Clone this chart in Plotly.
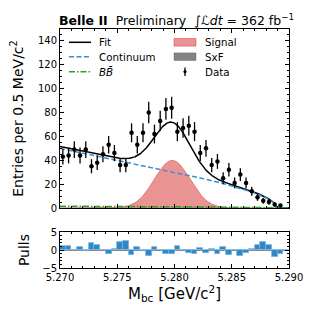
import numpy as np
import plotly.graph_objects as go

# ---------------- data ----------------
bin_low = 5.270
bin_width = 0.0005
n_bins = 40

# Observed counts per 0.5 MeV bin (first 39 bins; last bin empty)
counts = [43, 44, 49, 44, 49, 35, 38, 45, 53, 46,
          36, 36, 63, 53, 63, 80, 62, 73, 83, 84,
          64, 67, 69, 64, 46, 50, 36, 39, 25, 32,
          21, 28, 21, 14, 9, 6, 5, 3, 2]

# Pulls per bin (as drawn in the lower panel)
pulls = [1.2, 1.0, 0.05, 0.8, -0.4, 1.9, 1.3, -0.1, -1.0, 0.3,
         2.1, 2.5, -1.3, 0.7, -0.3, -1.8, 0.9, -0.05, -1.1, -1.2,
         1.0, 0.1, -0.7, -1.0, 0.6, -0.9, 0.2, -1.0, 0.7, -1.3,
         0.05, -1.7, -0.8, 0.3, 1.3, 2.1, 1.3, -2.0, -1.0, 0.0]

# Fit-model parameters
argus_endpoint = 5.2889
argus_c = 36.0
cont_at_low_edge = 50.0
sig_mean = 5.2798
sig_sigma = 0.00155
sig_peak = 40.0
bb_at_low_edge = 1.5
sxf_peak = 0.4
sxf_sigma = 0.003

x_ticks = [5.270, 5.275, 5.280, 5.285, 5.290]
y_ticks = [0, 20, 40, 60, 80, 100, 120, 140]
pull_ticks = [-5, 0, 5]

legend_col1 = ["Fit", "Continuum", "<i>BB\u0304</i>"]
legend_col2 = ["Signal", "SxF", "Data"]

# ---------------- derived ----------------
edges = bin_low + bin_width * np.arange(n_bins + 1)
centers = 0.5 * (edges[:-1] + edges[1:])
data_x = centers[:len(counts)]
data_y = np.array(counts, dtype=float)
data_err = np.sqrt(data_y)

m = np.linspace(bin_low, bin_low + n_bins * bin_width, 800)


def argus(mm, m0, c):
    u = np.clip(1.0 - (mm / m0) ** 2, 0.0, None)
    return mm * np.sqrt(u) * np.exp(c * u)


lo = np.array(bin_low)
cont = cont_at_low_edge * argus(m, argus_endpoint, argus_c) / argus(lo, argus_endpoint, argus_c)
bb = bb_at_low_edge * argus(m, argus_endpoint, 0.0) / argus(lo, argus_endpoint, 0.0)
sig = sig_peak * np.exp(-0.5 * ((m - sig_mean) / sig_sigma) ** 2)
sxf = sxf_peak * np.exp(-0.5 * ((m - sig_mean) / sxf_sigma) ** 2)
fit = cont + bb + sig + sxf

FONT = "DejaVu Sans"
C_SIG_FILL = "rgba(214,39,40,0.5)"
C_SIG_LINE = "rgba(214,39,40,0.55)"
C_SXF = "rgba(110,110,110,0.85)"
C_CONT = "#3b8fd0"
C_BB = "#2ca02c"
DASH_CONT = "5px,2.5px"
DASH_BB = "6px,2px,1.5px,2px"

fig = go.Figure()

fig.add_trace(go.Scatter(x=m, y=sig, mode="lines", fill="tozeroy",
                         line=dict(color=C_SIG_LINE, width=0.8), fillcolor=C_SIG_FILL,
                         name="Signal", xaxis="x2", yaxis="y", showlegend=False))
fig.add_trace(go.Scatter(x=m, y=sxf, mode="lines", fill="tozeroy",
                         line=dict(color="rgba(90,90,90,0.8)", width=0.5), fillcolor=C_SXF,
                         name="SxF", xaxis="x2", yaxis="y", showlegend=False))
fig.add_trace(go.Scatter(x=m, y=fit, mode="lines", line=dict(color="black", width=1.5),
                         name="Fit", xaxis="x2", yaxis="y", showlegend=False))
fig.add_trace(go.Scatter(x=m, y=cont, mode="lines",
                         line=dict(color=C_CONT, width=1.5, dash=DASH_CONT),
                         name="Continuum", xaxis="x2", yaxis="y", showlegend=False))
fig.add_trace(go.Scatter(x=m, y=bb, mode="lines",
                         line=dict(color=C_BB, width=1.5, dash=DASH_BB),
                         name="BB", xaxis="x2", yaxis="y", showlegend=False))
fig.add_trace(go.Scatter(x=data_x, y=data_y, mode="markers",
                         marker=dict(color="black", size=4.5),
                         error_y=dict(type="data", array=data_err, visible=True,
                                      color="black", thickness=1.3, width=0),
                         name="Data", xaxis="x2", yaxis="y", showlegend=False))
fig.add_trace(go.Bar(x=centers, y=pulls, width=bin_width,
                     marker=dict(color="#2f87c6", line=dict(color="rgba(120,180,225,0.9)", width=0.8)),
                     showlegend=False, xaxis="x", yaxis="y2"))

axis_common = dict(showline=True, linecolor="black", linewidth=1, mirror="allticks",
                   ticks="inside", ticklen=4, tickwidth=1, tickcolor="black",
                   showgrid=False, zeroline=False, automargin=False,
                   tickfont=dict(family=FONT, size=10, color="black"))

# The page body adds an 8 px margin, so the figure is drawn 8 px smaller and
# all reference pixel positions are shifted by that offset.
PAGE_OFFSET = 8
W, H = 316 - PAGE_OFFSET, 316 - PAGE_OFFSET
ML, MR, MT, MB = 60 - PAGE_OFFSET, 27, 29 - PAGE_OFFSET, 48
PW, PH = W - ML - MR, H - MT - MB


def px(xp):
    return (xp - PAGE_OFFSET - ML) / PW


def py(yp):
    return (H - MB - (yp - PAGE_OFFSET)) / PH


rows = [42.3, 56.7, 71.7]
shapes = []
annotations = []
for yrow, col, dash in zip(rows, ["black", C_CONT, C_BB], ["solid", DASH_CONT, DASH_BB]):
    shapes.append(dict(type="line", xref="paper", yref="paper", x0=px(69), x1=px(91),
                       y0=py(yrow), y1=py(yrow), line=dict(color=col, width=1.5, dash=dash)))
shapes.append(dict(type="rect", xref="paper", yref="paper", x0=px(174), x1=px(196),
                   y0=py(rows[0] - 3.8), y1=py(rows[0] + 3.8),
                   fillcolor=C_SIG_FILL, line=dict(color=C_SIG_LINE, width=0.8)))
shapes.append(dict(type="rect", xref="paper", yref="paper", x0=px(174), x1=px(196),
                   y0=py(rows[1] - 3.8), y1=py(rows[1] + 3.8),
                   fillcolor=C_SXF, line=dict(color="rgba(90,90,90,0.8)", width=0.5)))
shapes.append(dict(type="line", xref="paper", yref="paper", x0=px(185), x1=px(185),
                   y0=py(rows[2] - 4.3), y1=py(rows[2] + 4.3), line=dict(color="black", width=1.3)))
shapes.append(dict(type="circle", xref="paper", yref="paper", x0=px(183.8), x1=px(186.2),
                   y0=py(rows[2] - 1.2), y1=py(rows[2] + 1.2), fillcolor="black",
                   line=dict(color="black", width=1)))
for yrow, t1, t2 in zip(rows, legend_col1, legend_col2):
    annotations.append(dict(text=t1, xref="paper", yref="paper", x=px(97), y=py(yrow),
                            xanchor="left", yanchor="middle", showarrow=False,
                            font=dict(family=FONT, size=10.3, color="black")))
    annotations.append(dict(text=t2, xref="paper", yref="paper", x=px(203), y=py(yrow),
                            xanchor="left", yanchor="middle", showarrow=False,
                            font=dict(family=FONT, size=10.3, color="black")))

annotations.append(dict(text="<b>Belle II</b>  Preliminary  \u222b<i>\u2112dt</i> = 362 fb<sup>\u22121</sup>",
                        xref="paper", yref="paper", x=0.0, y=1.0, xanchor="left", yanchor="bottom",
                        yshift=-1, xshift=-3, showarrow=False,
                        font=dict(family=FONT, size=12.5, color="black")))

fig.update_layout(
    width=W, height=H,
    margin=dict(l=ML, r=MR, t=MT, b=MB, autoexpand=False),
    paper_bgcolor="white", plot_bgcolor="white",
    font=dict(family=FONT, color="black"),
    bargap=0, showlegend=False,
    xaxis=dict(**axis_common, anchor="y2", domain=[0, 1], range=[5.270, 5.290],
               tickvals=x_ticks, tickformat=".3f",
               minor=dict(dtick=0.001, ticks="inside", ticklen=2, tickcolor="black"),
               title=dict(text="M<sub>bc</sub> [GeV/c<sup>2</sup>]",
                          font=dict(family=FONT, size=15), standoff=4)),
    xaxis2=dict(**axis_common, anchor="y", matches="x", domain=[0, 1], range=[5.270, 5.290],
                tickvals=x_ticks, showticklabels=False,
                minor=dict(dtick=0.001, ticks="inside", ticklen=2, tickcolor="black")),
    yaxis=dict(**axis_common, anchor="x2", domain=[1 - (208 - 29) / PH, 1], range=[0, 150],
               tickvals=y_ticks,
               minor=dict(dtick=5, ticks="inside", ticklen=2, tickcolor="black"),
               title=dict(text="Entries per 0.5 MeV/c<sup>2</sup>",
                          font=dict(family=FONT, size=14), standoff=11)),
    yaxis2=dict(**axis_common, anchor="x", domain=[0, (268 - 232) / PH], range=[-5, 5],
                tickvals=pull_ticks,
                minor=dict(dtick=1, ticks="inside", ticklen=2, tickcolor="black"),
                title=dict(text="Pulls", font=dict(family=FONT, size=14), standoff=9)),
    shapes=shapes,
    annotations=annotations,
)

fig.update_layout(yaxis2_zeroline=True, yaxis2_zerolinecolor="#888888", yaxis2_zerolinewidth=1)

fig.write_html("out.html")
